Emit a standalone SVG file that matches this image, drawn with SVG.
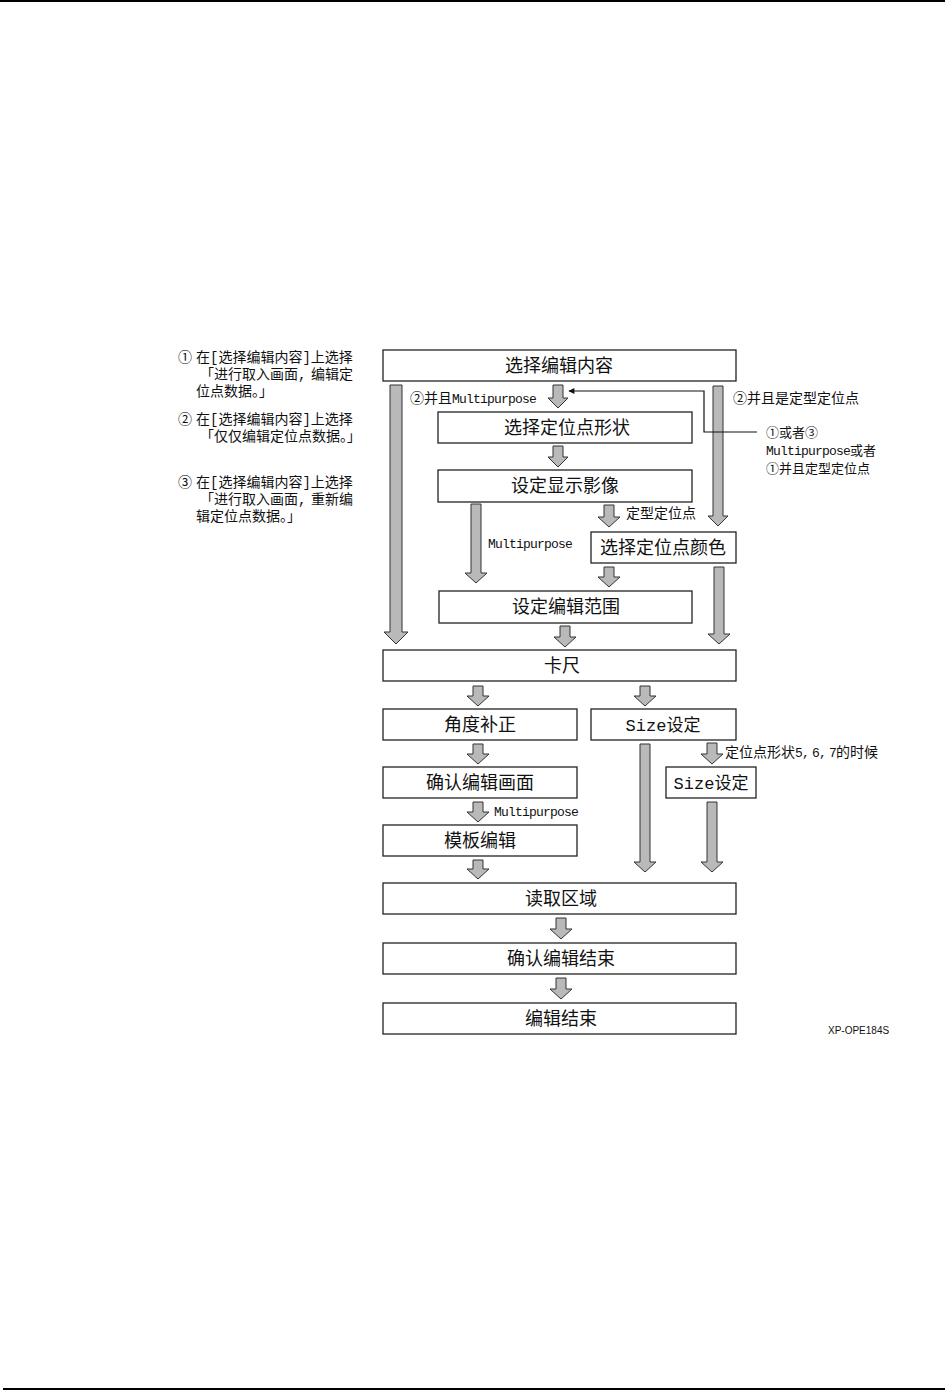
<svg xmlns="http://www.w3.org/2000/svg" width="949" height="1391" viewBox="0 0 949 1391">
<defs>
<style>
.box{fill:#fff;stroke:#222;stroke-width:1.3}
.nt{font-family:"Noto Sans CJK SC","Liberation Mono",sans-serif;font-size:18px;fill:#111;text-anchor:middle}
.nm{font-family:"Liberation Mono","Noto Sans CJK SC",monospace;font-size:17px;fill:#111;text-anchor:middle}
.lb{font-family:"Noto Sans CJK SC","Liberation Mono",sans-serif;font-size:14px;fill:#111}
.lb2{font-family:"Noto Sans CJK SC","Liberation Mono",sans-serif;font-size:13px;fill:#111}
.m{font-family:"Liberation Mono",monospace;font-size:13px;letter-spacing:-0.8px}
.note{font-family:"Liberation Mono","Noto Sans CJK SC",monospace;font-size:14px;fill:#111}
.arr{fill:#b9b9b9;stroke:#333;stroke-width:1}
.thin{fill:none;stroke:#111;stroke-width:1.2}
</style>
<marker id="ah" viewBox="0 0 10 10" refX="9" refY="5" markerWidth="10" markerHeight="6" orient="auto" markerUnits="userSpaceOnUse">
<path d="M0,0 L10,5 L0,10 Z" fill="#111"/>
</marker>
</defs>
<rect x="0" y="0" width="945" height="2" fill="#000"/>
<rect x="3" y="1388" width="942" height="2" fill="#000"/>

<g id="notes">
<text class="note" x="178" y="362">①<tspan x="196">在[选择编辑内容]上选择</tspan></text>
<text class="note" x="200" y="379">「进行取入画面,<tspan x="311">编辑定</tspan></text>
<text class="note" x="196" y="396">位点数据。」</text>
<text class="note" x="178" y="424">②<tspan x="196">在[选择编辑内容]上选择</tspan></text>
<text class="note" x="200" y="441">「仅仅编辑定位点数据。」</text>
<text class="note" x="178" y="487">③<tspan x="196">在[选择编辑内容]上选择</tspan></text>
<text class="note" x="200" y="504">「进行取入画面,<tspan x="311">重新编</tspan></text>
<text class="note" x="196" y="521">辑定位点数据。」</text>
</g>

<g id="connectors">
<path class="arr" d="M390,385 H402 V632 H408 L396,644 L384,632 H390 Z"/>
<path class="arr" d="M553,385 H563 V398 H568 L558,408 L548,398 H553 Z"/>
<path class="arr" d="M713,386 H723 V516 H728 L718,526 L708,516 H713 Z"/>
<path class="arr" d="M553,446 H563 V457 H568 L558,467 L548,457 H553 Z"/>
<path class="arr" d="M471,504 H481 V573 H487 L476,583 L465,573 H471 Z"/>
<path class="arr" d="M604,505 H614 V517 H620 L609,527 L598,517 H604 Z"/>
<path class="arr" d="M604,567 H614 V577 H620 L609,587 L598,577 H604 Z"/>
<path class="arr" d="M714,567 H724 V634 H730 L719,644 L708,634 H714 Z"/>
<path class="arr" d="M560,626 H570 V637 H576 L565,647 L554,637 H560 Z"/>
<path class="arr" d="M473,686 H483 V696 H489 L478,706 L467,696 H473 Z"/>
<path class="arr" d="M640,686 H650 V696 H656 L645,706 L634,696 H640 Z"/>
<path class="arr" d="M473,744 H483 V754 H489 L478,764 L467,754 H473 Z"/>
<path class="arr" d="M640,744 H650 V862 H656 L645,872 L634,862 H640 Z"/>
<path class="arr" d="M707,743 H717 V754 H723 L712,764 L701,754 H707 Z"/>
<path class="arr" d="M473,802 H483 V812 H489 L478,822 L467,812 H473 Z"/>
<path class="arr" d="M707,802 H717 V862 H723 L712,872 L701,862 H707 Z"/>
<path class="arr" d="M473,860 H483 V869 H489 L478,879 L467,869 H473 Z"/>
<path class="arr" d="M556,918 H566 V929 H572 L561,939 L550,929 H556 Z"/>
<path class="arr" d="M556,978 H566 V989 H572 L561,999 L550,989 H556 Z"/>
<polyline class="thin" points="757,432 704,432 704,391 569,391" marker-end="url(#ah)"/>
<text class="lb" x="410" y="403">②并且<tspan class="m">Multipurpose</tspan></text>
<text class="lb" x="733" y="403">②并且是定型定位点</text>
<text class="lb2" x="766" y="437">①或者③</text>
<text class="lb2" x="766" y="455"><tspan class="m">Multipurpose</tspan>或者</text>
<text class="lb2" x="766" y="473">①并且定型定位点</text>
<text class="lb" x="626" y="518">定型定位点</text>
<text class="lb" x="488" y="548"><tspan class="m">Multipurpose</tspan></text>
<text class="lb" x="725" y="757">定位点形状<tspan class="m" style="word-spacing:-4px">5, 6, 7</tspan>的时候</text>
<text class="lb" x="494" y="816"><tspan class="m">Multipurpose</tspan></text>
</g>

<g id="n1"><rect class="box" x="383" y="350" width="353" height="31"/><text class="nt" x="559" y="372">选择编辑内容</text></g>
<g id="n2"><rect class="box" x="438" y="412" width="254" height="31"/><text class="nt" x="567" y="434">选择定位点形状</text></g>
<g id="n3"><rect class="box" x="438" y="470" width="254" height="32"/><text class="nt" x="565" y="492">设定显示影像</text></g>
<g id="n4"><rect class="box" x="591" y="532" width="145" height="31"/><text class="nt" x="663" y="554">选择定位点颜色</text></g>
<g id="n5"><rect class="box" x="439" y="591" width="253" height="32"/><text class="nt" x="566" y="613">设定编辑范围</text></g>
<g id="n6"><rect class="box" x="383" y="650" width="353" height="31"/><text class="nt" x="562" y="672">卡尺</text></g>
<g id="n7"><rect class="box" x="383" y="709" width="194" height="31"/><text class="nt" x="480" y="731">角度补正</text></g>
<g id="n8"><rect class="box" x="591" y="709" width="145" height="31"/><text class="nm" x="663" y="731">Size设定</text></g>
<g id="n9"><rect class="box" x="383" y="767" width="194" height="31"/><text class="nt" x="480" y="789">确认编辑画面</text></g>
<g id="n10"><rect class="box" x="666" y="767" width="90" height="31"/><text class="nm" x="711" y="789">Size设定</text></g>
<g id="n11"><rect class="box" x="383" y="825" width="194" height="31"/><text class="nt" x="480" y="847">模板编辑</text></g>
<g id="n12"><rect class="box" x="383" y="883" width="353" height="31"/><text class="nt" x="561" y="905">读取区域</text></g>
<g id="n13"><rect class="box" x="383" y="943" width="353" height="31"/><text class="nt" x="561" y="965">确认编辑结束</text></g>
<g id="n14"><rect class="box" x="383" y="1003" width="353" height="31"/><text class="nt" x="561" y="1025">编辑结束</text></g>

<text x="828" y="1034" style="font-family:'Liberation Sans',sans-serif;font-size:10px;fill:#111">XP-OPE184S</text>
</svg>
